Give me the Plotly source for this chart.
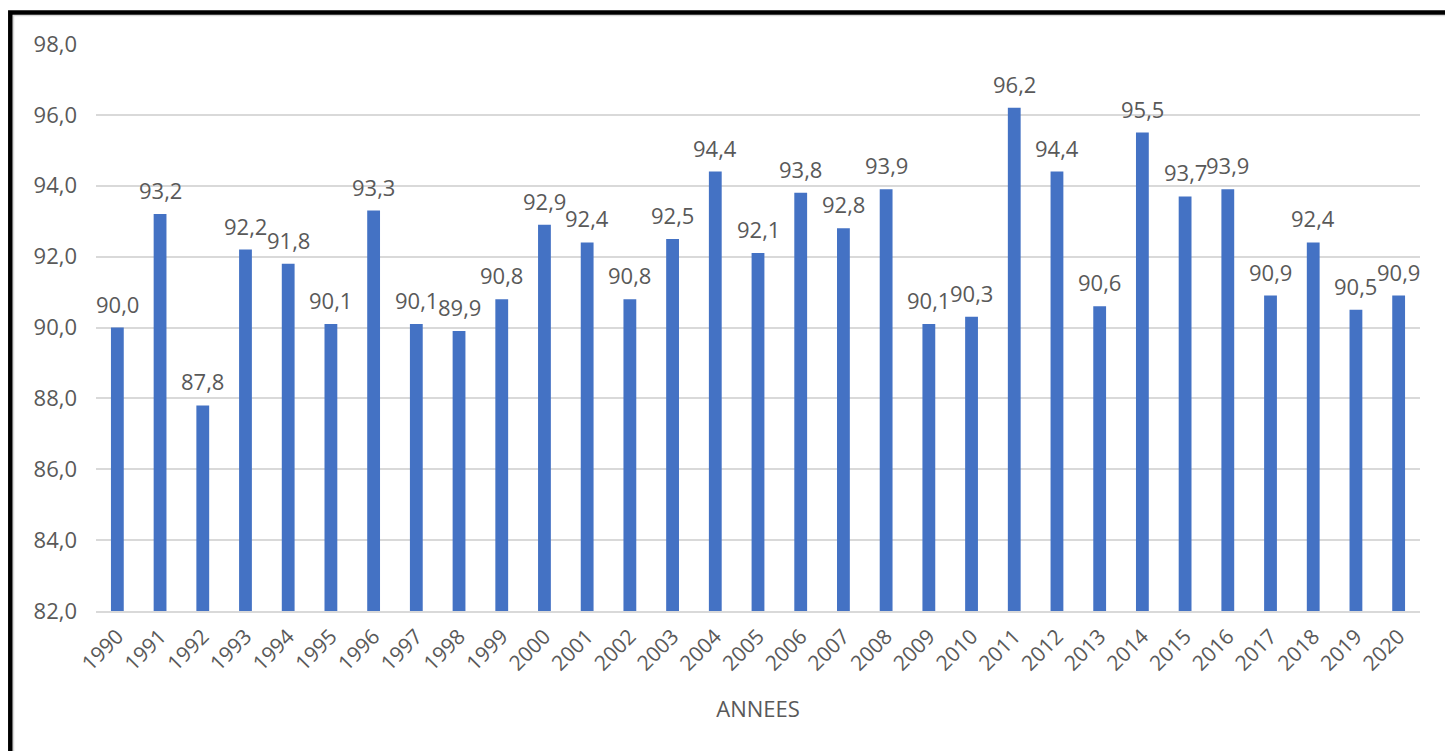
import plotly.graph_objects as go

# Annual values, 1990-2020
years = [str(y) for y in range(1990, 2021)]
values = [90.0, 93.2, 87.8, 92.2, 91.8, 90.1, 93.3, 90.1, 89.9, 90.8,
          92.9, 92.4, 90.8, 92.5, 94.4, 92.1, 93.8, 92.8, 93.9, 90.1,
          90.3, 96.2, 94.4, 90.6, 95.5, 93.7, 93.9, 90.9, 92.4, 90.5, 90.9]

y_ticks = [82, 84, 86, 88, 90, 92, 94, 96, 98]
x_title = "ANNEES"

FONT = "Open Sans"
GREY = "#595959"
BAR = "#4472C4"

W, H = 1445, 751
ML, MR, MT, MB = 96, 25, 44, 140
PW, PH = W - ML - MR, H - MT - MB

fig = go.Figure()
fig.add_trace(go.Bar(
    x=years, y=values,
    marker=dict(color=BAR, line=dict(width=0)),
    width=0.30,
    hoverinfo="x+y",
))

# value labels above each bar (x given as category index)
annotations = [
    dict(x=i, y=v, xref="x", yref="y", text=f"{v:.1f}".replace(".", ","),
         showarrow=False, yanchor="bottom", yshift=7,
         font=dict(family=FONT, size=22, color=GREY))
    for i, v in enumerate(values)
]


def px_to_paper_x(px):
    return (px - ML) / PW


def px_to_paper_y(py):
    return 1 + (MT - py) / PH


# outer frame (left and top edges visible)
shapes = [
    dict(type="rect", xref="paper", yref="paper",
         x0=px_to_paper_x(13.5), x1=1.2, y0=-0.6, y1=px_to_paper_y(15.5),
         line=dict(color="#d9d9d9", width=1.5), fillcolor="rgba(0,0,0,0)"),
    dict(type="rect", xref="paper", yref="paper",
         x0=px_to_paper_x(10.3), x1=1.2, y0=-0.6, y1=px_to_paper_y(12.5),
         line=dict(color="#000000", width=4.5), fillcolor="rgba(0,0,0,0)"),
]

fig.update_layout(
    width=W, height=H,
    margin=dict(l=ML, r=MR, t=MT, b=MB, pad=0),
    paper_bgcolor="white", plot_bgcolor="white",
    separators=", ",
    showlegend=False,
    annotations=annotations,
    shapes=shapes,
    font=dict(family=FONT, size=22, color=GREY),
)

fig.update_xaxes(
    type="category",
    range=[-0.5, len(years) - 0.5],
    tickangle=-45,
    tickfont=dict(family=FONT, size=21, color=GREY),
    showgrid=False,
    showline=True, linecolor="#d9d9d9", linewidth=2,
    ticks="",
    ticklabelstandoff=3,
    title=dict(text=x_title, font=dict(family=FONT, size=22, color=GREY), standoff=26),
)

fig.update_yaxes(
    range=[82, 98],
    tickvals=y_ticks,
    tickformat=".1f",
    tickfont=dict(family=FONT, size=22, color=GREY),
    showgrid=True, gridcolor="#d9d9d9", gridwidth=2,
    zeroline=False,
    showline=False,
    ticks="",
    ticklabelstandoff=18,
)

fig.write_html("out.html")
